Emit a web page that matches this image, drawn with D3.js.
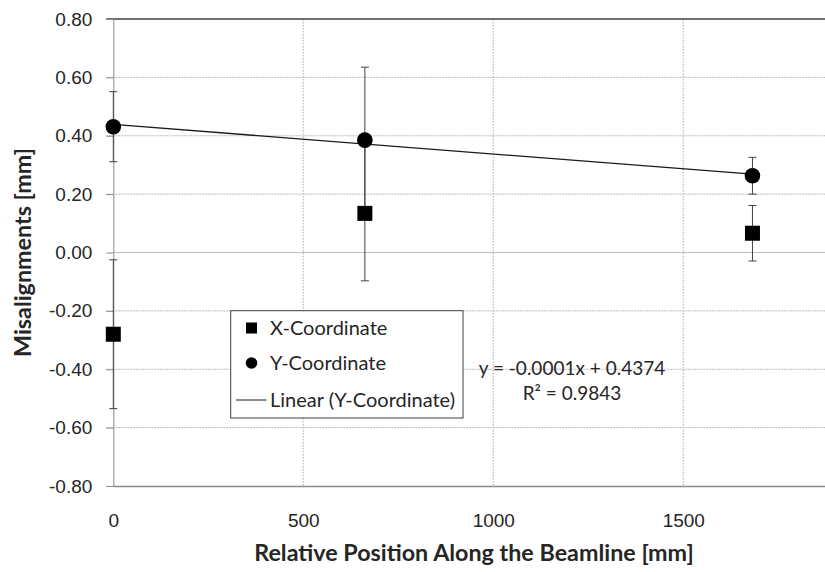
<!DOCTYPE html>
<html>
<head>
<meta charset="utf-8">
<script src="https://cdn.jsdelivr.net/npm/d3@7"></script>
<style>
  body { margin: 0; background: #fff; }
  svg { display: block; font-family: Lato, "Open Sans", sans-serif; }
</style>
</head>
<body>
<svg id="chart" width="825" height="572"></svg>
<script>
// values
var positions = [0, 662, 1682];
var xCoord = [-0.28, 0.134, 0.066];
var xErr = [0.255, 0.231, 0.095];
var yCoord = [0.431, 0.385, 0.263];
var yErr = [0.12, 0.25, 0.063];
var xTicks = [0, 500, 1000, 1500];
var yTicks = [-0.8, -0.6, -0.4, -0.2, 0, 0.2, 0.4, 0.6, 0.8];
var legendLabels = ["X-Coordinate", "Y-Coordinate", "Linear (Y-Coordinate)"];
var eqLines = ["y = -0.0001x + 0.4374", "R\u00b2 = 0.9843"];

var svg = d3.select('#chart');
var x = d3.scaleLinear().domain([0, 2000]).range([113.3, 873.3]);
var y = d3.scaleLinear().domain([-0.8, 0.8]).range([486, 19]);

// gridlines
svg.append('g').selectAll('line')
  .data(yTicks.filter(function(d) { return d !== 0 && d !== 0.8 && d !== -0.8; }))
  .enter().append('line')
  .attr('x1', x(0) - 7).attr('x2', 825)
  .attr('y1', function(d) { return y(d); }).attr('y2', function(d) { return y(d); })
  .attr('stroke', '#b8b8b8').attr('stroke-width', 1).attr('stroke-dasharray', '2,1');
svg.append('g').selectAll('line')
  .data(xTicks.slice(1))
  .enter().append('line')
  .attr('x1', function(d) { return x(d); }).attr('x2', function(d) { return x(d); })
  .attr('y1', y(0.8)).attr('y2', y(-0.8))
  .attr('stroke', '#c4c4c4').attr('stroke-width', 1.5).attr('stroke-dasharray', '1.5,1.5');

// zero line, top border
svg.append('line').attr('x1', x(0)).attr('x2', 825).attr('y1', y(0)).attr('y2', y(0))
  .attr('stroke', '#bdbdbd').attr('stroke-width', 1);
svg.append('line').attr('x1', x(0) - 7).attr('x2', 825).attr('y1', y(0.8)).attr('y2', y(0.8))
  .attr('stroke', '#404040').attr('stroke-width', 1.3);

// y axis
var yAxis = d3.axisLeft(y).tickValues(yTicks).tickFormat(d3.format('.2f')).tickSize(7).tickPadding(14);
var gy = svg.append('g').attr('transform', 'translate(' + x(0) + ',0)').call(yAxis);
gy.select('.domain').attr('stroke', '#8c8c8c');
gy.selectAll('.tick line').attr('stroke', '#8c8c8c');
gy.selectAll('text').attr('font-size', 19).attr('fill', '#262626')
  .text(function(d) { return d3.format('.2f')(d).replace('\u2212', '-'); });

// x axis at bottom
var xAxis = d3.axisBottom(x).tickValues(xTicks).tickFormat(d3.format('d')).tickSize(0).tickPadding(28);
var gx = svg.append('g').attr('transform', 'translate(0,' + y(-0.8) + ')').call(xAxis);
gx.select('.domain').attr('stroke', '#8c8c8c').attr('stroke-width', 1.5);
gx.selectAll('text').attr('font-size', 19).attr('fill', '#262626');

// axis titles
svg.append('text').attr('x', 474).attr('y', 561).attr('text-anchor', 'middle')
  .attr('font-size', 23.3).attr('font-weight', 'bold').attr('fill', '#262626')
  .text('Relative Position Along the Beamline [mm]');
svg.append('text').attr('transform', 'translate(31,252.5) rotate(-90)').attr('text-anchor', 'middle')
  .attr('font-size', 23.3).attr('font-weight', 'bold').attr('fill', '#262626')
  .text('Misalignments [mm]');

// trendline: least squares on Y-Coordinate
var mx = d3.mean(positions), my = d3.mean(yCoord);
var sxy = d3.sum(positions, function(p, i) { return (p - mx) * (yCoord[i] - my); });
var sxx = d3.sum(positions, function(p) { return (p - mx) * (p - mx); });
var slope = sxy / sxx, icpt = my - slope * mx;
var ext = d3.extent(positions);
svg.append('line')
  .attr('x1', x(ext[0])).attr('y1', y(icpt + slope * ext[0]))
  .attr('x2', x(ext[1])).attr('y2', y(icpt + slope * ext[1]))
  .attr('stroke', '#1a1a1a').attr('stroke-width', 1.3);

// error bars
function errorBars(vals, errs) {
  var g = svg.append('g').attr('stroke', '#404040').attr('stroke-width', 1);
  positions.forEach(function(p, i) {
    var cx = x(p);
    g.append('line').attr('x1', cx).attr('x2', cx)
      .attr('y1', y(vals[i] - errs[i])).attr('y2', y(vals[i] + errs[i]));
    [vals[i] - errs[i], vals[i] + errs[i]].forEach(function(v) {
      g.append('line').attr('x1', cx - 4).attr('x2', cx + 4).attr('y1', y(v)).attr('y2', y(v));
    });
  });
}
errorBars(xCoord, xErr);
errorBars(yCoord, yErr);

// markers
svg.append('g').selectAll('rect').data(positions).enter().append('rect')
  .attr('x', function(d) { return x(d) - 7.5; })
  .attr('y', function(d, i) { return y(xCoord[i]) - 7.5; })
  .attr('width', 15).attr('height', 15).attr('fill', '#000');
svg.append('g').selectAll('circle').data(positions).enter().append('circle')
  .attr('cx', function(d) { return x(d); })
  .attr('cy', function(d, i) { return y(yCoord[i]); })
  .attr('r', 7.8).attr('fill', '#000');

// legend
var lg = svg.append('g');
lg.append('rect').attr('x', 230.7).attr('y', 310.7).attr('width', 232.3).attr('height', 107.3)
  .attr('fill', '#fff').attr('stroke', '#404040').attr('stroke-width', 1);
var rowY = [328, 363, 400];
lg.append('rect').attr('x', 246).attr('y', rowY[0] - 5.5).attr('width', 11).attr('height', 11).attr('fill', '#000');
lg.append('circle').attr('cx', 251.5).attr('cy', rowY[1]).attr('r', 5.8).attr('fill', '#000');
lg.append('line').attr('x1', 236).attr('x2', 266.5).attr('y1', rowY[2]).attr('y2', rowY[2])
  .attr('stroke', '#1a1a1a').attr('stroke-width', 1);
lg.selectAll('text.lab').data(legendLabels).enter().append('text')
  .attr('class', 'lab')
  .attr('x', 270).attr('y', function(d, i) { return rowY[i]; }).attr('dy', '0.35em')
  .attr('font-size', 20).attr('fill', '#262626')
  .text(function(d) { return d; });

// trendline equation
svg.selectAll('text.eq').data(eqLines).enter().append('text')
  .attr('class', 'eq')
  .attr('x', 572).attr('y', function(d, i) { return 375 + i * 25; })
  .attr('text-anchor', 'middle').attr('font-size', 19).attr('fill', '#262626')
  .text(function(d) { return d; });
</script>
</body>
</html>
